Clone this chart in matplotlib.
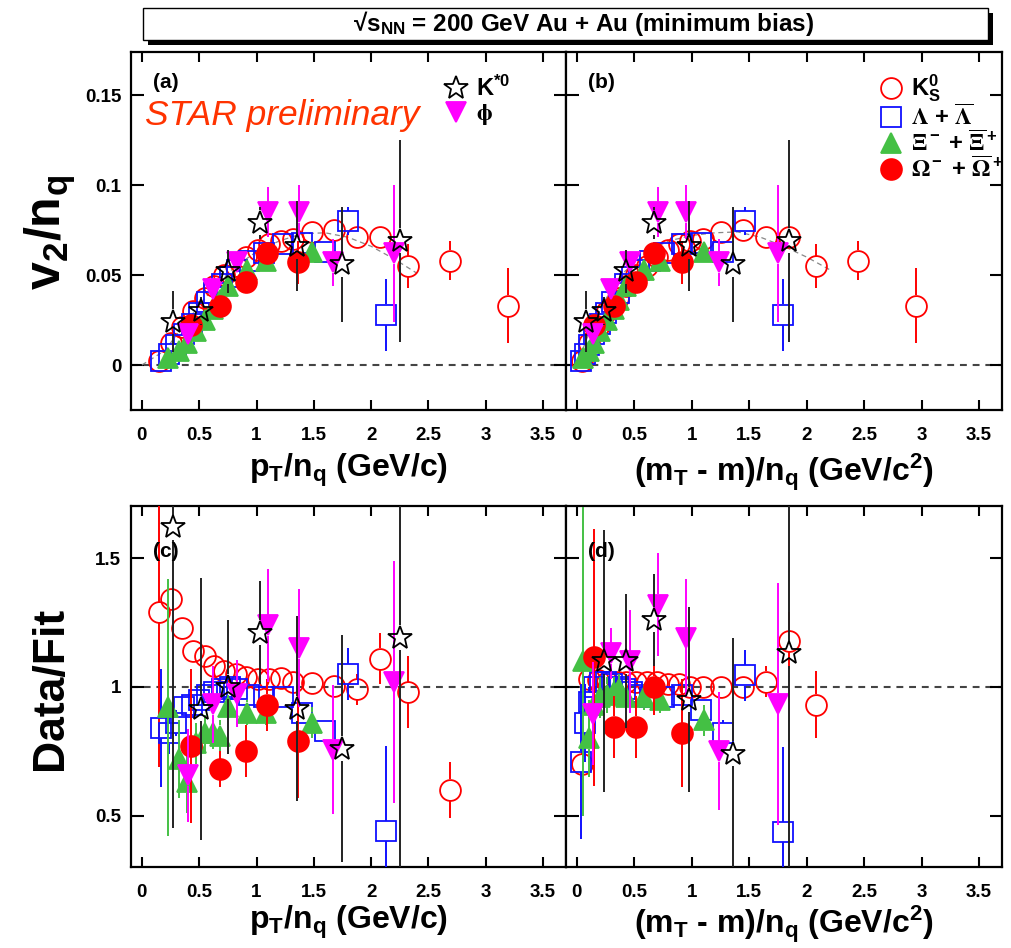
import numpy as np
import matplotlib
matplotlib.use('Agg')
import matplotlib.pyplot as plt
from matplotlib.patches import Rectangle

plt.rcParams['font.family'] = ['Liberation Sans', 'DejaVu Sans']
plt.rcParams['font.weight'] = 'bold'
plt.rcParams['mathtext.default'] = 'regular'
plt.rcParams['mathtext.fontset'] = 'stix'

nan = np.nan

# ---------------- data ----------------
# K0s
k0s_pt = [0.15, 0.25, 0.35, 0.45, 0.55, 0.63, 0.72, 0.82, 0.91, 1.01, 1.11, 1.21, 1.32, 1.48, 1.68, 1.88, 2.08, 2.32, 2.69, 3.19]
k0s_ke = [0.042, 0.104, 0.181, 0.265, 0.355, 0.428, 0.513, 0.608, 0.694, 0.791, 0.889, 0.986, 1.094, 1.252, 1.449, 1.647, 1.846, 2.085, 2.45, 2.95]
k0s_v2 = [0.002, 0.012, 0.021, 0.030, 0.037, 0.044, 0.050, 0.055, 0.060, 0.064, 0.067, 0.069, 0.070, 0.074, 0.075, 0.071, 0.071, 0.055, 0.058, 0.033]
k0s_v2e = [0.001, 0.001, 0.001, 0.001, 0.001, 0.001, 0.001, 0.001, 0.001, 0.001, 0.001, 0.001, 0.001, 0.002, 0.002, 0.003, 0.004, 0.012, 0.011, 0.021]
k0s_rc = [1.29, 1.34, 1.23, 1.14, 1.12, 1.08, 1.06, 1.05, 1.04, 1.03, 1.03, 1.035, 1.02, 1.015, 1.005, 0.99, 1.11, 0.98, 0.60, nan]
k0s_rce = [0.60, 0.04, 0.02, 0.02, 0.02, 0.02, 0.02, 0.02, 0.02, 0.02, 0.02, 0.02, 0.02, 0.02, 0.03, 0.06, 0.10, 0.14, 0.11, nan]
k0s_rd = [0.70, 1.03, 1.025, 1.02, 1.02, 1.02, 1.02, 1.02, 1.02, 1.01, 1.01, 1.0, 1.0, 1.0, 1.0, 1.02, 1.18, 0.93, nan, nan]
k0s_rde = [0.05, 0.03, 0.02, 0.02, 0.02, 0.02, 0.02, 0.02, 0.02, 0.02, 0.02, 0.02, 0.02, 0.03, 0.03, 0.06, 0.11, 0.13, nan, nan]

# Lambda + anti-Lambda
lam_pt = [0.167, 0.233, 0.30, 0.367, 0.433, 0.50, 0.567, 0.633, 0.70, 0.767, 0.833, 0.933, 1.067, 1.233, 1.40, 1.60, 1.80, 2.133]
lam_ke = [0.036, 0.067, 0.106, 0.150, 0.199, 0.251, 0.306, 0.363, 0.421, 0.480, 0.541, 0.633, 0.758, 0.916, 1.077, 1.271, 1.466, 1.794]
lam_v2 = [0.002, 0.006, 0.011, 0.017, 0.023, 0.029, 0.035, 0.040, 0.045, 0.049, 0.053, 0.058, 0.062, 0.067, 0.068, 0.063, 0.080, 0.028]
lam_v2e = [0.001, 0.001, 0.001, 0.001, 0.001, 0.001, 0.001, 0.001, 0.001, 0.001, 0.001, 0.001, 0.002, 0.002, 0.003, 0.004, 0.008, 0.020]
lam_rc = [0.84, 0.82, 0.86, 0.92, 0.93, 0.95, 0.97, 0.98, 0.99, 1.0, 0.99, 0.97, 0.96, 0.96, 0.90, 0.83, 1.05, 0.44]
lam_rce = [0.23, 0.08, 0.05, 0.04, 0.03, 0.02, 0.02, 0.02, 0.02, 0.02, 0.02, 0.02, 0.02, 0.02, 0.03, 0.04, 0.10, 0.33]
lam_rd = [0.71, 0.86, 0.94, 1.00, 1.02, 1.02, 1.01, 1.00, 0.99, 0.98, 0.97, 0.96, 0.96, 0.97, 0.91, 0.82, 1.045, 0.436]
lam_rde = [0.30, 0.15, 0.06, 0.04, 0.03, 0.02, 0.02, 0.02, 0.02, 0.02, 0.02, 0.02, 0.02, 0.03, 0.04, 0.05, 0.10, 0.33]

# Xi- + anti-Xi+
xi_pt = [0.23, 0.32, 0.39, 0.47, 0.55, 0.62, 0.68, 0.75, 0.92, 1.08, 1.48]
xi_ke = [0.056, 0.104, 0.148, 0.204, 0.264, 0.320, 0.370, 0.429, 0.580, 0.726, 1.103]
xi_v2 = [0.004, 0.008, 0.012, 0.019, 0.025, 0.031, 0.036, 0.044, 0.053, 0.058, 0.063]
xi_v2e = [0.002, 0.002, 0.002, 0.002, 0.002, 0.002, 0.002, 0.002, 0.003, 0.003, 0.004]
xi_rc = [0.92, 0.72, 0.63, 0.78, 0.82, 0.82, 0.81, 0.92, 0.90, 0.90, 0.86]
xi_rce = [0.50, 0.15, 0.12, 0.08, 0.07, 0.06, 0.06, 0.05, 0.05, 0.05, 0.06]
xi_rd = [1.10, 0.80, 0.93, 0.96, 0.97, 0.98, 0.99, 0.96, 0.96, 0.95, 0.87]
xi_rde = [0.60, 0.15, 0.10, 0.08, 0.07, 0.06, 0.06, 0.05, 0.05, 0.05, 0.06]

# Omega- + anti-Omega+
om_pt = [0.43, 0.68, 0.91, 1.09, 1.36]
om_ke = [0.147, 0.322, 0.510, 0.667, 0.912]
om_v2 = [0.022, 0.033, 0.046, 0.062, 0.057]
om_v2e = [0.004, 0.004, 0.005, 0.006, 0.012]
om_rc = [0.77, 0.68, 0.75, 0.93, 0.79]
om_rce = [0.30, 0.07, 0.10, 0.10, 0.22]
om_rd = [1.115, 0.845, 0.845, 1.0, 0.82]
om_rde = [0.50, 0.12, 0.12, 0.11, 0.21]

# K*0
ks_pt = [0.27, 0.52, 0.75, 1.03, 1.35, 1.75, 2.25]
ks_ke = [0.075, 0.238, 0.426, 0.675, 0.974, 1.358, 1.846]
ks_v2 = [0.024, 0.030, 0.052, 0.079, 0.066, 0.056, 0.069]
ks_v2e = [0.017, 0.008, 0.012, 0.009, 0.025, 0.032, 0.056]
ks_rc = [1.62, 0.915, 1.0, 1.21, 0.915, 0.76, 1.19]
ks_rce = [1.17, 0.51, 0.26, 0.20, 0.36, 0.44, 1.20]
ks_rd = [nan, 1.10, 1.10, 1.26, 0.95, 0.74, 1.13]
ks_rde = [nan, 0.51, 0.26, 0.18, 0.36, 0.45, 1.20]

# phi
phi_pt = [0.40, 0.62, 0.83, 1.10, 1.37, 1.67, 2.20]
phi_ke = [0.138, 0.293, 0.464, 0.703, 0.952, 1.236, 1.749]
phi_v2 = [0.017, 0.042, 0.057, 0.085, 0.085, 0.057, 0.062]
phi_v2e = [0.005, 0.005, 0.006, 0.014, 0.015, 0.013, 0.038]
phi_rc = [0.656, 0.933, 0.974, 1.24, 1.15, 0.756, 1.02]
phi_rce = [0.18, 0.15, 0.13, 0.22, 0.23, 0.25, 0.47]
phi_rd = [0.896, 1.13, 1.10, 1.32, 1.19, 0.75, 0.935]
phi_rde = [0.20, 0.10, 0.20, 0.20, 0.23, 0.23, 0.47]

# fit curves (thin grey dashed)
fit_a_x = [0.0, 0.2, 0.4, 0.6, 0.8, 1.0, 1.2, 1.4, 1.6, 1.8, 2.0, 2.2, 2.4]
fit_a_y = [0.0, 0.008, 0.025, 0.041, 0.054, 0.063, 0.069, 0.073, 0.0735, 0.071, 0.066, 0.059, 0.051]
fit_b_x = [0.0, 0.1, 0.2, 0.3, 0.4, 0.5, 0.6, 0.7, 0.8, 1.0, 1.2, 1.4, 1.6, 1.8, 2.0, 2.2]
fit_b_y = [0.0, 0.017, 0.031, 0.042, 0.051, 0.057, 0.062, 0.066, 0.069, 0.072, 0.0735, 0.074, 0.071, 0.066, 0.060, 0.053]

xticks = [0, 0.5, 1, 1.5, 2, 2.5, 3, 3.5]
xticklabels = ['0', '0.5', '1', '1.5', '2', '2.5', '3', '3.5']

# ---------------- styles ----------------
RED = '#ff0000'
BLUE = '#1010ff'
GREEN = '#44c044'
MAG = '#ff00ff'
BLK = '#222222'

species = [
    # name, pt, ke, v2, v2e, rc, rce, rd, rde, marker, ms, mfc, mec, ecolor, label
    ('k0s', k0s_pt, k0s_ke, k0s_v2, k0s_v2e, k0s_rc, k0s_rce, k0s_rd, k0s_rde, 'o', 15, 'none', RED, RED, 'K$_S^0$'),
    ('lam', lam_pt, lam_ke, lam_v2, lam_v2e, lam_rc, lam_rce, lam_rd, lam_rde, 's', 15, 'none', BLUE, BLUE,
     r'$\mathrm{\Lambda}$ + $\overline{\mathrm{\Lambda}}$'),
    ('xi', xi_pt, xi_ke, xi_v2, xi_v2e, xi_rc, xi_rce, xi_rd, xi_rde, '^', 15, GREEN, GREEN, GREEN,
     r'$\mathrm{\Xi}^-$ + $\overline{\mathrm{\Xi}}^+$'),
    ('om', om_pt, om_ke, om_v2, om_v2e, om_rc, om_rce, om_rd, om_rde, 'o', 15, RED, RED, RED,
     r'$\mathrm{\Omega}^-$ + $\overline{\mathrm{\Omega}}^+$'),
    ('phi', phi_pt, phi_ke, phi_v2, phi_v2e, phi_rc, phi_rce, phi_rd, phi_rde, 'v', 15, MAG, MAG, MAG,
     r'$\mathrm{\phi}$'),
    ('ks', ks_pt, ks_ke, ks_v2, ks_v2e, ks_rc, ks_rce, ks_rd, ks_rde, '*', 18, 'none', 'black', BLK, 'K$^{*0}$'),
]

W, H = 1011.0, 948.0
DPI = 100


def fbox(l, t, r, b):
    return [l / W, 1 - b / H, (r - l) / W, (b - t) / H]


def errbars(ax, x, y, e, ms, color, z, ax_h, span):
    # ROOT style: error bar stops at the marker edge
    gap = ms / 2.0 * DPI / 72.0 * span / ax_h
    for xi, yi, ei in zip(x, y, e):
        if np.isnan(yi) or np.isnan(ei) or ei <= gap:
            continue
        ax.vlines([xi, xi], [yi + gap, yi - ei], [yi + ei, yi - gap],
                  colors=color, linewidth=1.4, zorder=z)


fig = plt.figure(figsize=(10.11, 9.48), dpi=DPI)
ax_a = fig.add_axes(fbox(131, 52, 566, 410))
ax_b = fig.add_axes(fbox(566, 52, 1002, 410))
ax_c = fig.add_axes(fbox(131, 506, 566, 867))
ax_d = fig.add_axes(fbox(566, 506, 1002, 867))

ylim_top = (-0.025, 0.174)
ylim_bot = (0.3, 1.703)

handles = {}
for i, sp in enumerate(species):
    (name, pt, ke, v2, v2e, rc, rce, rd, rde, mk, ms, mfc, mec, ec, lab) = sp
    z = 3 + i
    for ax, x, y, e, h, yl in [(ax_a, pt, v2, v2e, 358, ylim_top), (ax_b, ke, v2, v2e, 358, ylim_top),
                               (ax_c, pt, rc, rce, 361, ylim_bot), (ax_d, ke, rd, rde, 361, ylim_bot)]:
        errbars(ax, x, y, e, ms, ec, z, h, yl[1] - yl[0])
        ln, = ax.plot(x, y, ls='none', marker=mk, ms=ms, mfc=mfc, mec=mec,
                      mew=1.3, zorder=z + 0.5)
        if ax is ax_a:
            handles[name] = (ln, lab)

ax_a.plot(fit_a_x, fit_a_y, color='#888888', lw=0.9, ls=(0, (4, 3)), zorder=2)
ax_b.plot(fit_b_x, fit_b_y, color='#888888', lw=0.9, ls=(0, (4, 3)), zorder=2)

for ax in (ax_a, ax_b):
    ax.axhline(0, color='#444444', lw=1.5, ls=(0, (3.3, 2.8)), zorder=1)
    ax.set_ylim(*ylim_top)
    ax.set_yticks([0, 0.05, 0.1, 0.15])
    ax.set_yticklabels(['0', '0.05', '0.1', '0.15'])
for ax in (ax_c, ax_d):
    ax.axhline(1, color='#444444', lw=1.5, ls=(0, (3.3, 2.8)), zorder=1)
    ax.set_ylim(*ylim_bot)
    ax.set_yticks([0.5, 1, 1.5])
    ax.set_yticklabels(['0.5', '1', '1.5'])

for ax in (ax_a, ax_b, ax_c, ax_d):
    ax.set_xlim(-0.095, 3.7)
    ax.set_xticks(xticks)
    ax.set_xticklabels(xticklabels)
    for s in ax.spines.values():
        s.set_linewidth(1.6)
    ax.tick_params(axis='both', direction='in', top=True, right=True,
                   width=1.5, labelsize=13.5, colors='black')
    ax.tick_params(axis='x', length=7, pad=12)
    ax.tick_params(axis='y', length=9, pad=7)
    for t in ax.get_xticklabels() + ax.get_yticklabels():
        t.set_fontweight('bold')

for ax in (ax_b, ax_d):
    ax.tick_params(axis='y', labelleft=False)

ax_a.set_xlabel('p$_T$/n$_q$ (GeV/c)', fontsize=23, fontweight='bold', labelpad=6)
ax_b.set_xlabel('(m$_T$ - m)/n$_q$ (GeV/c$^2$)', fontsize=23, fontweight='bold', labelpad=6)
ax_c.set_xlabel('p$_T$/n$_q$ (GeV/c)', fontsize=23, fontweight='bold', labelpad=2)
ax_d.set_xlabel('(m$_T$ - m)/n$_q$ (GeV/c$^2$)', fontsize=23, fontweight='bold', labelpad=2)

fig.text(50 / W, 1 - 233 / H, 'v$_2$/n$_q$', rotation=90, ha='center', va='center',
         fontsize=36, fontweight='bold')
fig.text(50 / W, 1 - 688 / H, 'Data/Fit', rotation=90, ha='center', va='center',
         fontsize=32, fontweight='bold')

# panel tags
for ax, tag, yy in ((ax_a, '(a)', 0.916), (ax_b, '(b)', 0.916), (ax_c, '(c)', 0.875), (ax_d, '(d)', 0.875)):
    ax.text(0.05, yy, tag, transform=ax.transAxes, fontsize=15,
            fontweight='bold', ha='left', va='center', zorder=20)

ax_a.text(0.032, 0.824, 'STAR preliminary', transform=ax_a.transAxes,
          fontsize=25.5, fontstyle='italic', fontweight='normal', color='#ff3300',
          ha='left', va='center', zorder=20)

# legends
la = [handles['ks'], handles['phi']]
leg_a = ax_a.legend([h for h, _ in la], [l for _, l in la], loc='upper left',
                    bbox_to_anchor=(0.722, 0.933), frameon=False, fontsize=17,
                    handlelength=0.9, handletextpad=0.4, borderpad=0,
                    borderaxespad=0, labelspacing=0.05)
lb = [handles['k0s'], handles['lam'], handles['xi'], handles['om']]
leg_b = ax_b.legend([h for h, _ in lb], [l for _, l in lb], loc='upper left',
                    bbox_to_anchor=(0.722, 0.942), frameon=False, fontsize=17,
                    handlelength=0.9, handletextpad=0.4, borderpad=0,
                    borderaxespad=0, labelspacing=0.0)
for leg in (leg_a, leg_b):
    for t in leg.get_texts():
        t.set_fontweight('bold')

# title box with drop shadow
bx0, by0, bx1, by1 = 143, 8, 988, 40
fig.add_artist(Rectangle(((bx0 + 5) / W, 1 - (by1 + 5) / H), (bx1 - bx0) / W, (by1 - by0) / H,
                         transform=fig.transFigure, facecolor='black', edgecolor='black', lw=0))
fig.add_artist(Rectangle((bx0 / W, 1 - by1 / H), (bx1 - bx0) / W, (by1 - by0) / H,
                         transform=fig.transFigure, facecolor='white', edgecolor='black', lw=1.0))
fig.text(584 / W, 1 - 24 / H, '\u221as$_{NN}$ = 200 GeV Au + Au (minimum bias)',
         ha='center', va='center', fontsize=17.5, fontweight='bold')

fig.savefig('out.png', dpi=DPI)
